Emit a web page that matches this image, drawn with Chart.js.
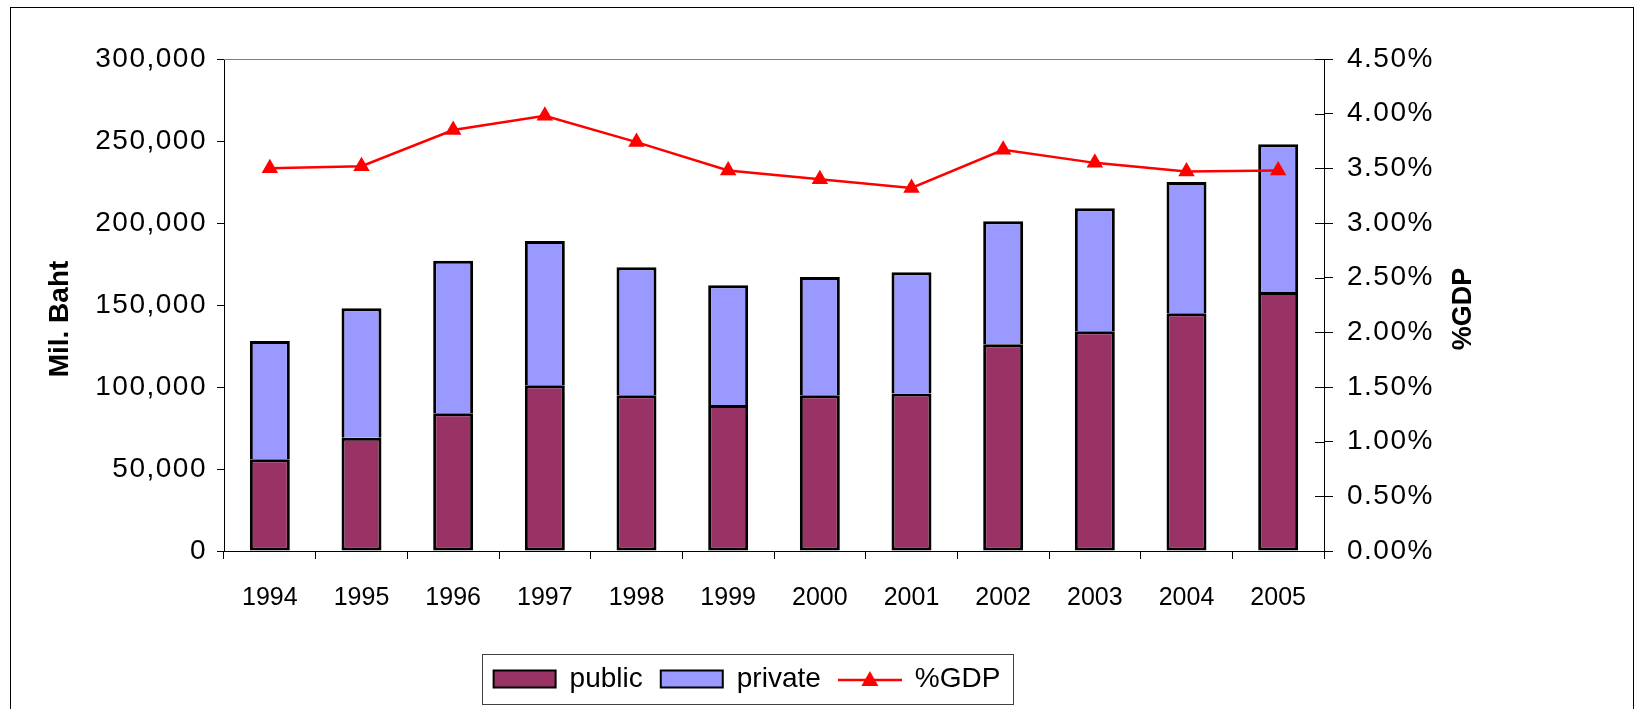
<!DOCTYPE html>
<html>
<head>
<meta charset="utf-8">
<script src="https://cdn.jsdelivr.net/npm/chart.js@4.4.0/dist/chart.umd.min.js"></script>
<style>
  html, body { margin: 0; padding: 0; background: #fff; }
  #wrap { position: relative; width: 1637px; height: 709px; }
</style>
</head>
<body>
<div id="wrap"><canvas id="chart1"></canvas></div>
<script>
// values
var years = ['1994', '1995', '1996', '1997', '1998', '1999', '2000', '2001', '2002', '2003', '2004', '2005'];
var publicVals = [56000, 69000, 84000, 101000, 95000, 89000, 95000, 96000, 126000, 134000, 145000, 158000];
var privateVals = [72000, 79000, 93000, 88000, 78000, 73000, 72000, 74000, 75000, 75000, 80000, 90000];
var gdpPct = [3.50, 3.52, 3.85, 3.98, 3.74, 3.48, 3.40, 3.32, 3.67, 3.55, 3.47, 3.48];

// axis ranges
var bahtMax = 300000, bahtStep = 50000;
var pctMax = 4.5, pctStep = 0.5;

var FONT = "'Liberation Sans', Arial, sans-serif";
Chart.defaults.font.family = FONT;
Chart.defaults.color = '#000';

// legend sample for the line series: red line with triangle
var lineSwatch = document.createElement('canvas');
lineSwatch.width = 64; lineSwatch.height = 20;
(function(){
  var c = lineSwatch.getContext('2d');
  c.strokeStyle = '#ff0000'; c.lineWidth = 2.5;
  c.beginPath(); c.moveTo(0, 11); c.lineTo(64, 11); c.stroke();
  c.fillStyle = '#ff0000';
  c.beginPath(); c.moveTo(32, 2); c.lineTo(40.5, 17); c.lineTo(23.5, 17); c.closePath(); c.fill();
})();

var frame = {
  id: 'frame',
  beforeDraw: function(chart) {
    var ctx = chart.ctx;
    ctx.letterSpacing = '0px';
    ctx.save();
    ctx.fillStyle = '#fff';
    ctx.fillRect(0, 0, chart.width, chart.height);
    ctx.strokeStyle = '#000'; ctx.lineWidth = 1;
    ctx.strokeRect(10.5, 7.5, chart.width - 14, chart.height + 10);
    ctx.restore();
  },
  // value axis labels (z 1) come after this: Excel spaces them a bit wider
  afterDatasetsDraw: function(chart) {
    chart.ctx.letterSpacing = '1.5px';
  },
  afterDraw: function(chart) {
    var ctx = chart.ctx, a = chart.chartArea;
    ctx.letterSpacing = '0px';
    ctx.save();
    // top edge of plot area
    ctx.strokeStyle = '#808080'; ctx.lineWidth = 1;
    ctx.beginPath();
    ctx.moveTo(a.left, a.top + 0.5); ctx.lineTo(a.right, a.top + 0.5);
    ctx.stroke();
    // right axis ticks cross the axis
    var y1 = chart.scales.y1;
    ctx.strokeStyle = '#000';
    ctx.beginPath();
    y1.ticks.forEach(function(t) {
      var py = Math.round(y1.getPixelForValue(t.value)) + 0.5;
      ctx.moveTo(a.right - 9, py); ctx.lineTo(a.right, py);
    });
    ctx.stroke();
    // axis titles, both read bottom to top
    ctx.fillStyle = '#000';
    ctx.font = 'bold 28px ' + FONT;
    ctx.textAlign = 'center'; ctx.textBaseline = 'middle';
    ctx.translate(60, (a.top + a.bottom) / 2 + 14);
    ctx.rotate(-Math.PI / 2);
    ctx.fillText('Mil. Baht', 0, 0);
    ctx.setTransform(1, 0, 0, 1, 0, 0);
    ctx.font = 'bold 27px ' + FONT;
    ctx.translate(a.right + 140, (a.top + a.bottom) / 2 + 4);
    ctx.rotate(-Math.PI / 2);
    ctx.fillText('%GDP', 0, 0);
    ctx.setTransform(1, 0, 0, 1, 0, 0);
    // legend box
    var hb = chart.legend.legendHitBoxes;
    if (hb && hb.length) {
      var l = Math.min.apply(null, hb.map(function(h){ return h.left; }));
      var r = Math.max.apply(null, hb.map(function(h){ return h.left + h.width; }));
      var t = hb[0].top, b = hb[0].top + hb[0].height;
      ctx.strokeStyle = '#404040'; ctx.lineWidth = 1;
      ctx.strokeRect(Math.round(l - 12) + 0.5, Math.round(t - 11) + 0.5, Math.round(r - l + 24), Math.round(b - t + 22));
    }
    ctx.restore();
  }
};

var chart1 = new Chart(document.getElementById('chart1').getContext('2d'), {
  type: 'bar',
  data: {
    labels: years,
    datasets: [
      {
        label: 'public',
        data: publicVals,
        backgroundColor: '#993366',
        borderColor: '#000',
        borderWidth: 3,
        borderSkipped: false,
        yAxisID: 'y',
        stack: 'total',
        order: 1
      },
      {
        label: 'private',
        data: privateVals,
        backgroundColor: '#9999ff',
        borderColor: '#000',
        borderWidth: 3,
        borderSkipped: 'start',
        yAxisID: 'y',
        stack: 'total',
        order: 1
      },
      {
        type: 'line',
        label: '%GDP',
        data: gdpPct,
        borderColor: '#ff0000',
        backgroundColor: '#ff0000',
        borderWidth: 2.5,
        pointStyle: 'triangle',
        pointRadius: 9.5,
        pointBorderWidth: 0,
        pointBackgroundColor: '#ff0000',
        tension: 0,
        yAxisID: 'y1',
        order: 0
      }
    ]
  },
  options: {
    responsive: true,
    maintainAspectRatio: false,
    animation: false,
    devicePixelRatio: 1,
    categoryPercentage: 0.436,
    barPercentage: 1,
    layout: {
      padding: { left: 0, right: 143, top: 59, bottom: 6 }
    },
    plugins: {
      tooltip: { enabled: false },
      legend: {
        position: 'bottom',
        labels: {
          font: { size: 28 },
          color: '#000',
          padding: 18,
          usePointStyle: true,
          pointStyleWidth: 62,
          boxHeight: 17,
          sort: function(a, b) { return a.datasetIndex - b.datasetIndex; },
          generateLabels: function(chart) {
            var items = Chart.defaults.plugins.legend.labels.generateLabels(chart);
            items.forEach(function(it) {
              if (it.datasetIndex === 2) {
                it.pointStyle = lineSwatch;
              } else {
                it.pointStyle = 'rect';
                it.lineWidth = 2;
                it.strokeStyle = '#000';
              }
            });
            return items;
          }
        }
      }
    },
    scales: {
      x: {
        stacked: true,
        afterFit: function(scale) { scale.height = 96; },
        grid: {
          display: true,
          offset: true,
          drawOnChartArea: false,
          drawTicks: true,
          tickLength: 8,
          color: '#000'
        },
        border: { display: true, color: '#000', width: 1 },
        ticks: { font: { size: 25 }, color: '#000', padding: 24, maxRotation: 0 }
      },
      y: {
        stacked: true,
        position: 'left',
        min: 0,
        max: bahtMax,
        afterFit: function(scale) { scale.width = 224; },
        grid: {
          display: true,
          drawOnChartArea: false,
          drawTicks: true,
          tickLength: 7,
          color: '#000'
        },
        border: { display: true, color: '#000', width: 1 },
        ticks: {
          z: 1,
          stepSize: bahtStep,
          font: { size: 28 },
          color: '#000',
          padding: 10,
          callback: function(v) { return v.toLocaleString('en-US'); }
        }
      },
      y1: {
        position: 'right',
        min: 0,
        max: pctMax,
        afterFit: function(scale) { scale.width = 170; },
        grid: {
          display: true,
          drawOnChartArea: false,
          drawTicks: true,
          tickLength: 9,
          color: '#000'
        },
        border: { display: true, color: '#000', width: 1 },
        ticks: {
          z: 1,
          stepSize: pctStep,
          font: { size: 28 },
          color: '#000',
          padding: 14,
          callback: function(v) { return v.toFixed(2) + '%'; }
        }
      }
    }
  },
  plugins: [frame]
});
</script>
</body>
</html>
